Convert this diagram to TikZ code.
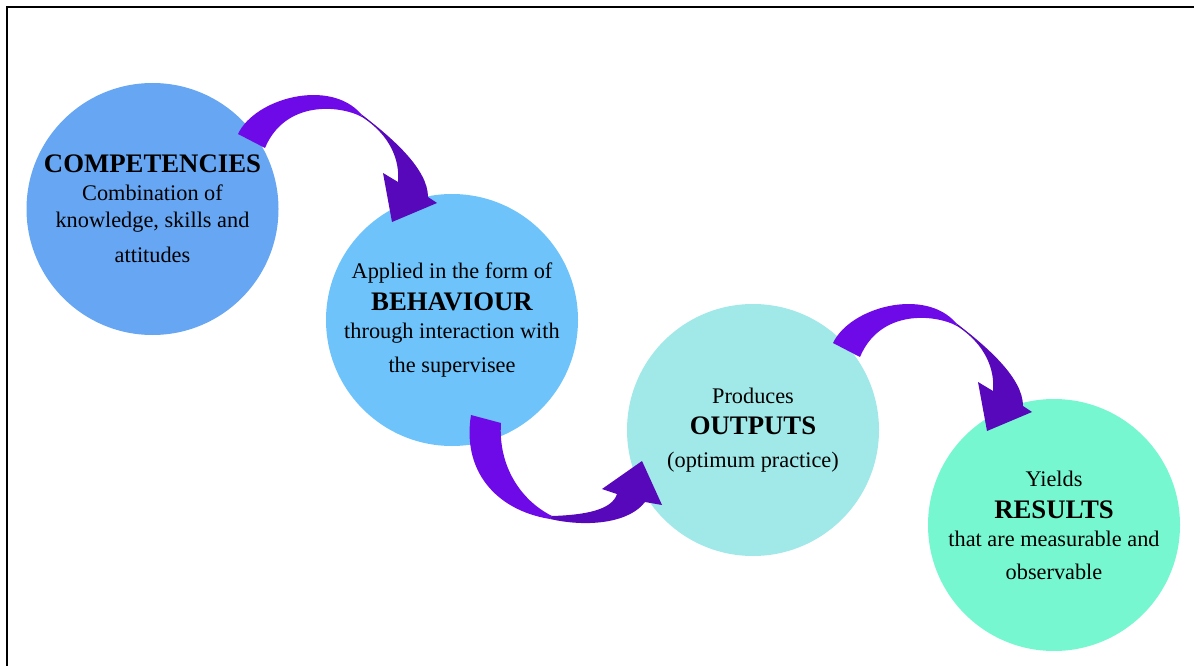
\documentclass[tikz,border=0pt]{standalone}
\usepackage{fontspec}
\setmainfont{Liberation Serif}
\usepackage{tikz}

\definecolor{compblue}{RGB}{102,166,242}
\definecolor{behavblue}{RGB}{110,195,251}
\definecolor{outcyan}{RGB}{161,232,232}
\definecolor{resgreen}{RGB}{118,247,208}
\definecolor{arrowlight}{RGB}{110,10,232}
\definecolor{arrowdark}{RGB}{86,8,186}

\newcommand{\headline}[1]{{\fontsize{26.75}{32}\selectfont\bfseries #1}}

\tikzset{
  bubble/.style={circle, minimum size=252pt, inner sep=0pt, align=center,
    font=\fontsize{22.3}{27}\selectfont},
  % bent block arrow, from the top right of one bubble down into the next
  bendarrow/.pic={
    \fill[arrowlight] (238,134) .. controls (255,98) and (330,78) .. (361,114)
      -- (362,117) .. controls (340,105) and (285,100) .. (265,148) -- cycle;
    \fill[arrowdark] (361,114) .. controls (395,140) and (428,170) .. (428,197)
      -- (437,203) -- (392,222) -- (383,173) -- (398,182)
      .. controls (400,160) and (390,135) .. (362,117) -- cycle;
  }
}

\begin{document}
\begin{tikzpicture}[x=1pt,y=-1pt]
\useasboundingbox (0,0) rectangle (1194,666);
\draw[line width=1.5pt] (7,666) -- (7,7) -- (1194,7);

\node[bubble, fill=compblue] (competencies) at (152.5,209)
  {\headline{COMPETENCIES}\\[1.3pt] Combination of\\ knowledge, skills and\\[8pt] attitudes};
\node[bubble, fill=behavblue] (behaviour) at (452,320)
  {Applied in the form of\\[4.7pt] \headline{BEHAVIOUR}\\[1.3pt] through interaction with\\[6.3pt] the supervisee};
\node[bubble, fill=outcyan] (outputs) at (753,430)
  {Produces\\[4.7pt] \headline{OUTPUTS}\\[6pt] (optimum practice)};
\node[bubble, fill=resgreen] (results) at (1054,525)
  {Yields\\[5pt] \headline{RESULTS}\\[1pt] that are measurable and\\[6pt] observable};

\pic at (0,0) {bendarrow};
\pic at (595,209) {bendarrow};
% the arrow that bends under, from behaviour to outputs
\fill[arrowlight] (471,415) .. controls (462,470) and (495,510) .. (550,519)
  -- (552,516) .. controls (520,500) and (498,465) .. (501,423) -- cycle;
\fill[arrowdark] (550,519) .. controls (590,528) and (630,522) .. (645,502)
  -- (662,505) -- (642,461) -- (602,489) -- (617,494)
  .. controls (612,510) and (585,515) .. (552,516) -- cycle;
\end{tikzpicture}
\end{document}
